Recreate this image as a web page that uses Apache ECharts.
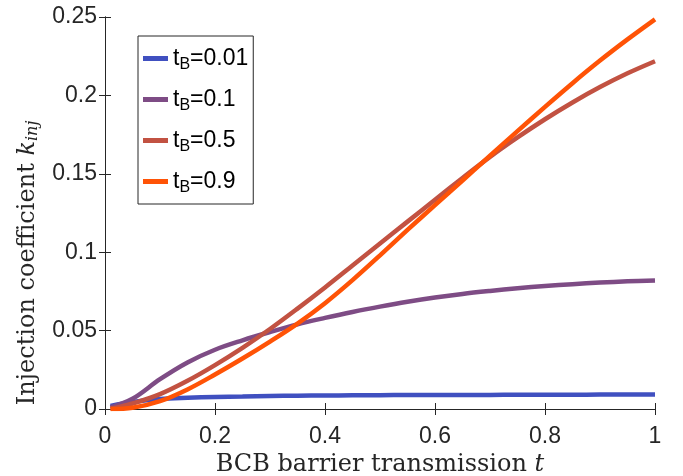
<!DOCTYPE html>
<html lang="en">
<head>
    <meta charset="UTF-8">
    <title>Injection coefficient</title>
    <script src="https://cdn.jsdelivr.net/npm/echarts@6/dist/echarts.min.js"></script>
</head>
<body style="margin:0;">
<div id="main" style="width: 683px;height:476px;"></div>
<script>
    // transmission t
    var tVals = [0.01, 0.05, 0.1, 0.15, 0.2, 0.25, 0.3, 0.35, 0.4, 0.45, 0.5,
                 0.55, 0.6, 0.65, 0.7, 0.75, 0.8, 0.85, 0.9, 0.95, 1];
    var legendNames = ['0.01', '0.1', '0.5', '0.9'];
    var kB001 = [0.002, 0.0045, 0.0064, 0.0072, 0.0077, 0.008, 0.0083, 0.0085, 0.0086, 0.0087, 0.0088,
                 0.0089, 0.0089, 0.009, 0.009, 0.0091, 0.0091, 0.0091, 0.0092, 0.0092, 0.0092];
    var kB01 = [0.001, 0.0065, 0.019, 0.0297, 0.0378, 0.0438, 0.0491, 0.054, 0.0581, 0.0619, 0.0653,
                0.0684, 0.0711, 0.0734, 0.0753, 0.077, 0.0784, 0.0796, 0.0806, 0.0814, 0.082];
    var kB05 = [0.0, 0.0035, 0.0095, 0.018, 0.028, 0.039, 0.051, 0.064, 0.0775, 0.0915, 0.1055,
                0.1195, 0.1335, 0.1473, 0.1608, 0.1732, 0.1848, 0.1955, 0.2053, 0.2141, 0.2218];
    var kB09 = [0.0, 0.0008, 0.005, 0.0125, 0.022, 0.0322, 0.043, 0.0545, 0.0675, 0.0822, 0.098,
                0.1142, 0.1300, 0.1457, 0.1615, 0.1772, 0.1927, 0.2078, 0.2222, 0.2357, 0.2485];
    var colors = ['#4050C0', '#7E4C85', '#C25242', '#FF5306'];

    function pairs(ys) {
        var out = [];
        for (var i = 0; i < tVals.length; i++) out.push([tVals[i], ys[i]]);
        return out;
    }

    var axisColor = '#262626';
    var labelFont = {fontFamily: 'Liberation Sans', fontSize: 23, color: axisColor};
    var serif = 'DejaVu Serif';

    var myChart = echarts.init(document.getElementById('main'));
    var allData = [kB001, kB01, kB05, kB09];
    var series = [];
    for (var i = 0; i < 4; i++) {
        series.push({
            name: legendNames[i],
            type: 'line',
            smooth: 0.35,
            showSymbol: false,
            color: colors[i],
            lineStyle: {width: 4.5, color: colors[i]},
            data: pairs(allData[i])
        });
    }

    var option = {
        animation: false,
        grid: {left: 105, right: 28, top: 17, bottom: 67, outerBoundsMode: 'none'},
        legend: {
            orient: 'vertical',
            left: 138,
            top: 36,
            data: legendNames,
            icon: 'rect',
            itemWidth: 25,
            itemHeight: 5,
            itemGap: 12,
            padding: [8, 5, 8, 5],
            borderColor: axisColor,
            borderWidth: 1,
            backgroundColor: '#fff',
            formatter: function (name) {
                return '{t|t}{s|B}{t|=' + name + '}';
            },
            textStyle: {
                rich: {
                    t: {fontFamily: 'Liberation Sans', fontSize: 23, color: '#000', lineHeight: 28},
                    s: {fontFamily: 'Liberation Sans', fontSize: 16, color: '#000', lineHeight: 28, padding: [13, 0, 0, 0]}
                }
            }
        },
        xAxis: [{
            type: 'value',
            min: 0, max: 1, interval: 0.2,
            name: '{r|BCB barrier transmission }{i|t}',
            nameLocation: 'middle',
            nameGap: 43,
            nameTextStyle: {
                rich: {
                    r: {fontFamily: serif, fontSize: 24, color: axisColor},
                    i: {fontFamily: serif, fontSize: 24, fontStyle: 'italic', color: axisColor}
                }
            },
            axisLine: {lineStyle: {color: axisColor}},
            axisTick: {inside: true, length: 6, lineStyle: {color: axisColor}},
            axisLabel: Object.assign({margin: 16, formatter: function (v) { return String(+v.toFixed(2)); }}, labelFont),
            splitLine: {show: false}
        }, {
            type: 'value',
            position: 'top',
            min: 0, max: 1, interval: 0.2,
            axisLine: {lineStyle: {color: axisColor}},
            axisTick: {inside: true, length: 6, lineStyle: {color: axisColor}},
            axisLabel: {show: false},
            splitLine: {show: false}
        }],
        yAxis: [{
            type: 'value',
            min: 0, max: 0.25, interval: 0.05,
            name: '{r|Injection coefficient }{k|k}{s|inj}',
            nameLocation: 'middle',
            nameGap: 62,
            nameTextStyle: {
                padding: [0, 100, 0, 0],
                rich: {
                    r: {fontFamily: serif, fontSize: 24, color: axisColor, lineHeight: 30},
                    k: {fontFamily: serif, fontSize: 24, fontStyle: 'italic', color: axisColor, lineHeight: 30},
                    s: {fontFamily: serif, fontSize: 16, fontStyle: 'italic', color: axisColor, lineHeight: 30, padding: [10, 0, 0, 0]}
                }
            },
            axisLine: {show: true, lineStyle: {color: axisColor}},
            axisTick: {show: true, inside: true, length: 6, lineStyle: {color: axisColor}},
            axisLabel: Object.assign({margin: 8, formatter: function (v) { return String(+v.toFixed(2)); }}, labelFont),
            splitLine: {show: false}
        }, {
            type: 'value',
            position: 'right',
            min: 0, max: 0.25, interval: 0.05,
            axisLine: {show: true, lineStyle: {color: axisColor}},
            axisTick: {show: true, inside: true, length: 6, lineStyle: {color: axisColor}},
            axisLabel: {show: false},
            splitLine: {show: false}
        }],
        series: series
    };

    myChart.setOption(option);
</script>
</body>
</html>
